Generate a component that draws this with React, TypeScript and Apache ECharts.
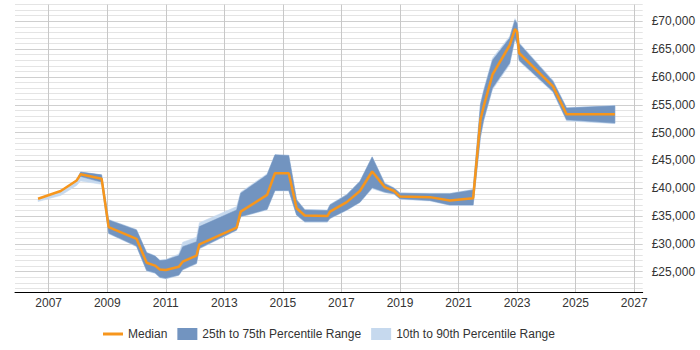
import React, { useEffect, useRef } from 'react';
import * as echarts from 'echarts';

// Observation dates
const dates = [
  '2006-08-22', '2007-05-31', '2007-12-16', '2008-02-03', '2008-10-23',
  '2009-01-19', '2010-01-01', '2010-05-08', '2010-08-19', '2010-10-19',
  '2011-01-01', '2011-06-13', '2011-07-31', '2012-01-19', '2012-02-24',
  '2013-06-03', '2013-07-24', '2014-06-18', '2014-09-24', '2015-03-15',
  '2015-06-21', '2015-10-01', '2016-07-09', '2016-08-11', '2017-03-08',
  '2017-08-19', '2018-01-19', '2018-06-25', '2018-10-19', '2019-01-01',
  '2020-01-08', '2020-09-13', '2021-07-02', '2021-10-01', '2021-11-10',
  '2022-02-28', '2022-10-01', '2022-12-05', '2023-01-01', '2023-01-26',
  '2024-03-24', '2024-09-09', '2026-05-05',
];

const median = [
  38100, 39500, 41400, 42500, 41700,
  33000, 30900, 26600, 26100, 25400,
  25300, 25900, 26800, 27900, 29900,
  32900, 35800, 38800, 42700, 42700,
  36400, 35100, 35000, 35800, 37500,
  39500, 43000, 40200, 39500, 38500,
  38400, 37800, 38200, 52300, 54700,
  60400, 65700, 68600, 68100, 64300,
  58300, 53300, 53300,
];

const p25 = [
  38100, 39500, 41300, 42100, 41100,
  31900, 29600, 25200, 24800, 24000,
  23800, 24400, 25400, 26500, 29200,
  32500, 34900, 36200, 39600, 39600,
  35200, 34000, 34000, 34600, 36100,
  37500, 40100, 39300, 39000, 38100,
  37800, 37000, 37000, 49300, 52300,
  58000, 62500, 67000, 66000, 63000,
  57400, 52300, 51700,
];

const p75 = [
  38100, 39500, 41500, 42900, 42400,
  34300, 32500, 28400, 27800, 27000,
  27100, 27900, 29500, 30400, 33100,
  36100, 39100, 42400, 46000, 45900,
  37900, 36100, 36000, 37000, 38800,
  41200, 45600, 40800, 40000, 39100,
  39000, 39000, 39700, 55000, 57400,
  63000, 67000, 70200, 69600, 66000,
  59200, 54400, 54800,
];

const p10 = [
  37600, 38700, 40500, 41300, 40700,
  31800, 29500, 25100, 24700, 23900,
  23700, 24300, 25300, 26400, 29100,
  32400, 34800, 36100, 39500, 39500,
  35100, 33900, 33900, 34500, 36000,
  37400, 39900, 39200, 38900, 38000,
  37700, 36900, 36900, 49000, 52000,
  57700, 62200, 66700, 65800, 62800,
  57200, 52100, 51600,
];

const p90 = [
  38100, 39500, 41500, 42900, 42400,
  34400, 32600, 28500, 27900, 27100,
  27200, 28200, 30300, 31200, 33800,
  36700, 39300, 42600, 46000, 45900,
  38000, 36200, 36100, 37100, 38900,
  41300, 45700, 41000, 40100, 39200,
  39100, 39100, 39800, 55300, 57700,
  63400, 67300, 70500, 69900, 66200,
  59400, 54500, 54900,
];

const xTickYears = [2007, 2009, 2011, 2013, 2015, 2017, 2019, 2021, 2023, 2025, 2027];
const yTickValues = [25000, 30000, 35000, 40000, 45000, 50000, 55000, 60000, 65000, 70000];

const X_MIN = 2005.85;
const X_MAX = 2027.29;
const Y_MIN = 21350;
const Y_MAX = 73000;
const Y_MINOR_STEP = 1000;

const ORANGE = '#f7961c';
const DARK = '#7294c0';
const LIGHT = '#c6d9ee';

function toYear(s: string): number {
  const [y, m, d] = s.split('-').map(Number);
  const start = Date.UTC(y, 0, 1);
  const end = Date.UTC(y + 1, 0, 1);
  return y + (Date.UTC(y, m - 1, d) - start) / (end - start);
}

export default function App() {
  const ref = useRef<HTMLDivElement>(null);

  useEffect(() => {
    if (!ref.current) return;
    const chart = echarts.init(ref.current, undefined, { renderer: 'svg' });

    const xs = dates.map(toYear);
    const minorLines: number[] = [];
    for (let v = Math.ceil(Y_MIN / Y_MINOR_STEP) * Y_MINOR_STEP; v <= Y_MAX; v += Y_MINOR_STEP) {
      if (v % 5000 !== 0) minorLines.push(v);
    }
    const majorLines: number[] = [];
    for (let v = Math.ceil(Y_MIN / 5000) * 5000; v <= Y_MAX; v += 5000) majorLines.push(v);

    const gridLine = (color: string) => ({
      silent: true,
      symbol: ['none', 'none'],
      label: { show: false },
      emphasis: { disabled: true },
      animation: false,
      lineStyle: { color, type: 'solid', width: 1 },
    });

    const band = (name: string, lo: number[], hi: number[], color: string, z: number) => ({
      name,
      type: 'custom',
      z,
      silent: true,
      itemStyle: { color },
      encode: { x: 0, y: [1, 2] },
      data: xs.map((x, i) => [x, lo[i], hi[i]]),
      renderItem: (params: any, api: any) => {
        if (params.dataIndex !== 0) return null;
        const upper = xs.map((x, i) => api.coord([x, hi[i]]));
        const lower = xs.map((x, i) => api.coord([x, lo[i]])).reverse();
        return {
          type: 'polygon',
          shape: { points: upper.concat(lower) },
          style: { fill: color, stroke: color, lineWidth: 0.5 },
        };
      },
    });

    chart.setOption({
      animation: false,
      textStyle: { fontFamily: '"Liberation Sans", Arial, sans-serif', fontSize: 12 },
      grid: { left: 15, right: 57.3, top: 4.6, bottom: 58 },
      legend: {
        left: 103,
        top: 328,
        padding: 0,
        itemGap: 10,
        itemWidth: 20,
        itemHeight: 12,
        textStyle: { color: '#333', fontSize: 12 },
        selectedMode: false,
        data: [
          { name: 'Median', icon: 'path://M0,0H20V3H0Z', itemStyle: { color: ORANGE } },
          { name: '25th to 75th Percentile Range', icon: 'rect', itemStyle: { color: DARK } },
          { name: '10th to 90th Percentile Range', icon: 'rect', itemStyle: { color: LIGHT } },
        ],
      },
      xAxis: {
        type: 'value',
        min: X_MIN,
        max: X_MAX,
        axisLine: { show: true, onZero: false, lineStyle: { color: '#000', width: 1 } },
        axisTick: { show: false },
        splitLine: { show: false },
        axisLabel: {
          customValues: xTickYears,
          formatter: (v: number) => String(Math.round(v)),
          margin: 5,
          color: '#333',
          fontSize: 12,
        },
      },
      yAxis: {
        type: 'value',
        position: 'right',
        min: Y_MIN,
        max: Y_MAX,
        axisLine: { show: false },
        axisTick: { show: false },
        splitLine: { show: false },
        axisLabel: {
          customValues: yTickValues,
          formatter: (v: number) => '£' + v.toLocaleString('en-GB'),
          margin: 9,
          color: '#333',
          fontSize: 12,
        },
      },
      series: [
        {
          name: 'gridMinor',
          type: 'line',
          data: [],
          z: 1,
          silent: true,
          markLine: {
            ...gridLine('#e4e4e4'),
            z: 1,
            data: minorLines.map((v) => ({ yAxis: v })),
          },
        },
        {
          name: 'gridMajor',
          type: 'line',
          data: [],
          z: 1,
          silent: true,
          markLine: {
            ...gridLine('#cfcfcf'),
            z: 1,
            data: majorLines.map((v) => ({ yAxis: v })),
          },
        },
        {
          name: 'gridYears',
          type: 'line',
          data: [],
          z: 1,
          silent: true,
          markLine: {
            ...gridLine('#c8c8c8'),
            z: 1,
            data: xTickYears.map((t) => ({ xAxis: t })),
          },
        },
        band('10th to 90th Percentile Range', p10, p90, LIGHT, 2),
        band('25th to 75th Percentile Range', p25, p75, DARK, 3),
        {
          name: 'Median',
          type: 'line',
          z: 4,
          data: xs.map((x, i) => [x, median[i]]),
          symbol: 'none',
          showSymbol: false,
          itemStyle: { color: ORANGE },
          lineStyle: { color: ORANGE, width: 2.5 },
        },
      ],
    });

    return () => chart.dispose();
  }, []);

  return (
    <div
      ref={ref}
      style={{ position: 'fixed', left: 0, top: 0, width: 700, height: 350, background: '#fff' }}
    />
  );
}
